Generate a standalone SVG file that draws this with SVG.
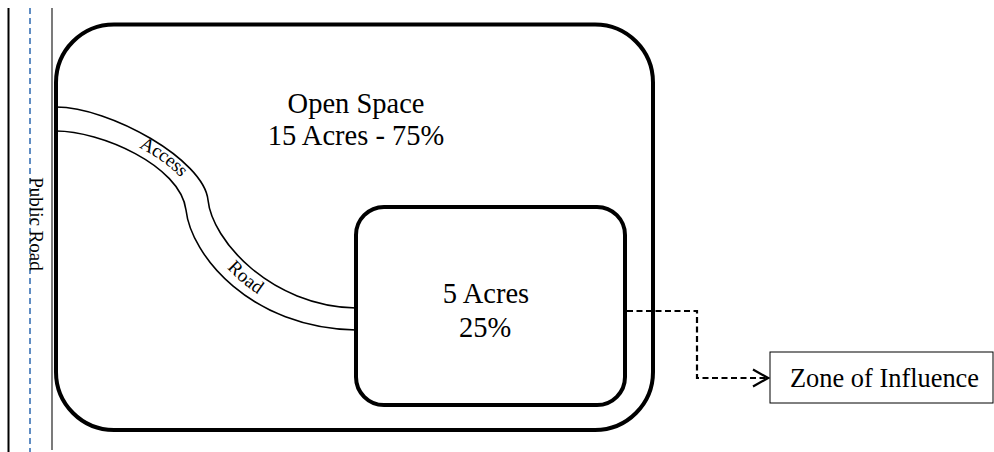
<svg xmlns="http://www.w3.org/2000/svg" xmlns:xlink="http://www.w3.org/1999/xlink" width="994" height="452" viewBox="0 0 994 452">
  <style>
    text { font-family: "Liberation Serif", Tinos, "Times New Roman", "DejaVu Serif", serif; fill: #000; }
    .big { font-size: 28.5px; text-anchor: middle; }
    .small { font-size: 19px; }
    .zone { fill: #fff; stroke: #000; stroke-width: 4; }
    .road { fill: none; stroke: #000; stroke-width: 1.6; }
    .conn { fill: none; stroke: #000; stroke-width: 2.2; stroke-dasharray: 6 3.5; }
  </style>
  <defs>
    <marker id="openArrow" markerWidth="18" markerHeight="20" refX="16" refY="10" orient="auto" markerUnits="userSpaceOnUse">
      <path d="M1,1.5 L16,10 L1,18.5" fill="none" stroke="#000" stroke-width="2.2"/>
    </marker>
    <!-- centre line of the access road, used to run its labels -->
    <path id="roadCentre" d="M56,119 C105,119 196,158 200,205 C204,248 264,318 356,319"/>
  </defs>
  <rect width="994" height="452" fill="#fff"/>

  <!-- public road along the west edge -->
  <g id="public-road">
    <line x1="8.5" y1="8" x2="8.5" y2="452" stroke="#000" stroke-width="2"/>
    <line x1="30" y1="8" x2="30" y2="452" stroke="#4f81bd" stroke-width="1.8" stroke-dasharray="6 4"/>
    <line x1="52" y1="8" x2="52" y2="450" stroke="#222" stroke-width="1.2"/>
    <text font-size="19" text-anchor="middle" transform="translate(30,224) rotate(90)">Public Road</text>
  </g>

  <!-- whole parcel -->
  <g id="open-space">
    <rect class="zone" x="56" y="24.5" width="597" height="405.5" rx="58" ry="58"/>
    <text class="big" x="356" y="113">Open Space</text>
    <text class="big" x="356" y="145">15 Acres - 75%</text>
  </g>

  <!-- access road from the public road to the developed area -->
  <g id="access-road">
    <path class="road" d="M56,107 C110,107 204,160 208,200 C212,240 270,306 356,308"/>
    <path class="road" d="M56,131 C100,131 180,165 186,210 C191,255 250,328 356,330"/>
    <text class="small" dy="5.5"><textPath xlink:href="#roadCentre" startOffset="116" text-anchor="middle">Access</textPath></text>
    <text class="small" dy="5.5"><textPath xlink:href="#roadCentre" startOffset="266" text-anchor="middle">Road</textPath></text>
  </g>

  <!-- developed area -->
  <g id="developed-area">
    <rect class="zone" x="356" y="207" width="269" height="198" rx="28" ry="28"/>
    <text class="big" x="486" y="303">5 Acres</text>
    <text class="big" x="485" y="337">25%</text>
  </g>

  <g id="zone-of-influence">
    <rect x="770" y="352" width="223" height="51" fill="#fff" stroke="#000" stroke-width="1"/>
    <text font-size="26.4" x="790" y="387">Zone of Influence</text>
  </g>

  <g id="connectors">
    <path class="conn" d="M627,311 H697 V378 H768" marker-end="url(#openArrow)"/>
  </g>
</svg>
